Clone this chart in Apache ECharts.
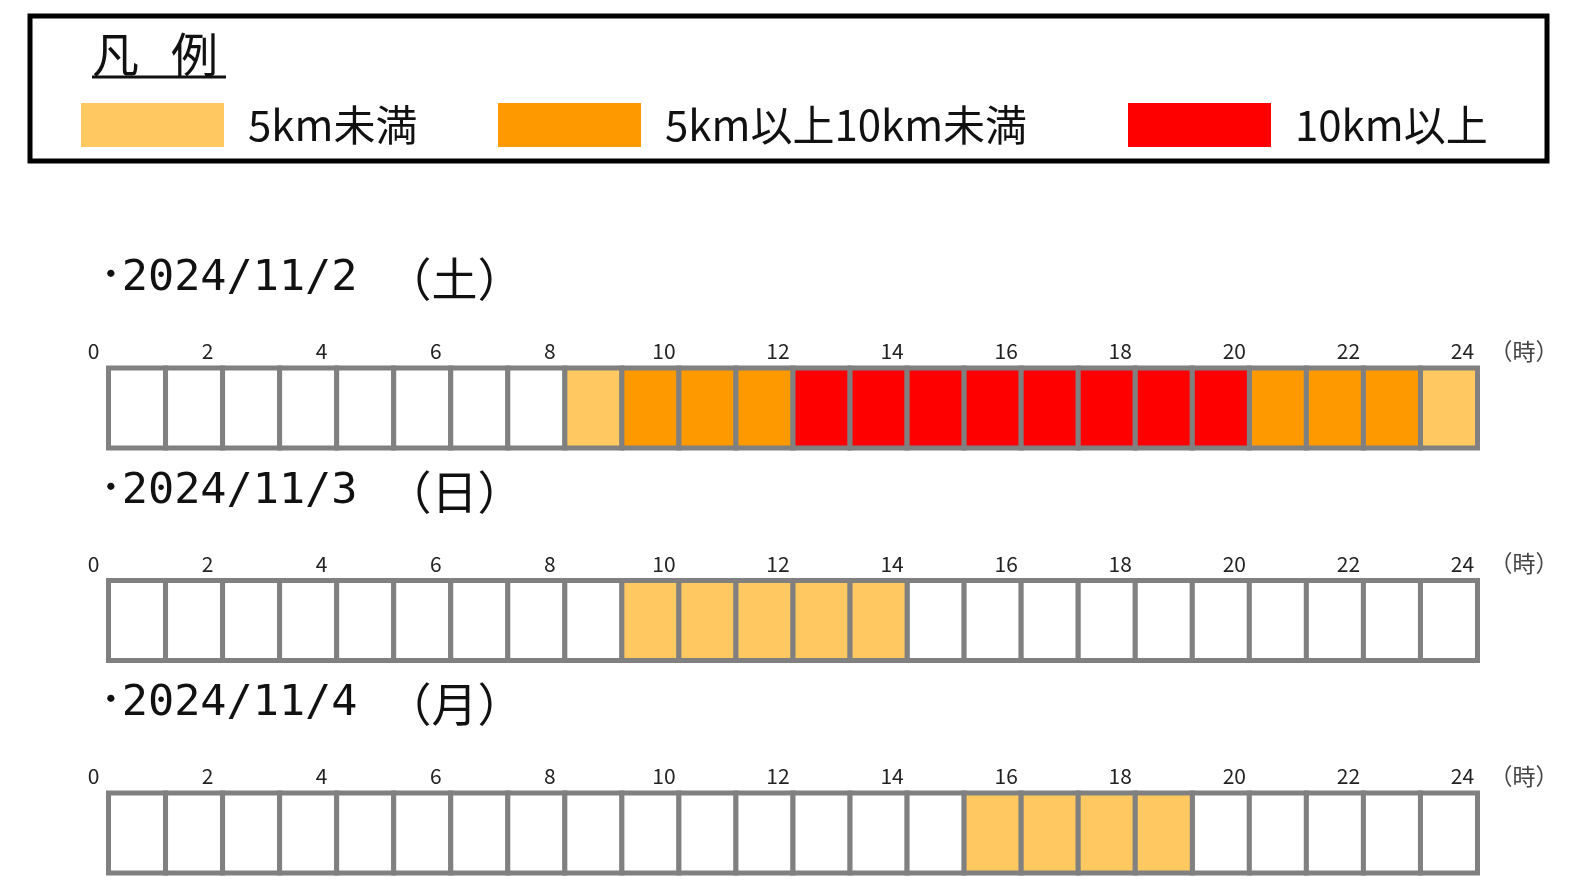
<!DOCTYPE html>
<html>
<head>
<meta charset="utf-8">
<script src="https://cdn.jsdelivr.net/npm/echarts@6/dist/echarts.min.js"></script>
<style>
html,body{margin:0;padding:0;background:#fff;}
#chart{width:1594px;height:888px;}
</style>
</head>
<body>
<div id="chart"></div>
<script>
// ---- data ----
const levelNames = ['5km未満', '5km以上10km未満', '10km以上'];
const dayDates = ['･2024/11/2', '･2024/11/3', '･2024/11/4'];
const dayWeekdays = ['（土）', '（日）', '（月）'];
// congestion level per hour (0 = none, 1 = <5km, 2 = 5-10km, 3 = >=10km), hours 0..23
const day1Levels = [0,0,0,0,0,0,0,0,1,2,2,2,3,3,3,3,3,3,3,3,2,2,2,1];
const day2Levels = [0,0,0,0,0,0,0,0,0,1,1,1,1,1,0,0,0,0,0,0,0,0,0,0];
const day3Levels = [0,0,0,0,0,0,0,0,0,0,0,0,0,0,0,1,1,1,1,0,0,0,0,0];
const hourAxisMin = 0;
const hourAxisMax = 24;
const hourAxisInterval = 2;
const hourUnit = '（時）';
const legendTitleChars = ['凡', '例'];

// ---- styles / layout ----
const FONT = '"Noto Sans CJK JP", "Noto Sans", sans-serif';
const MONO = '"DejaVu Sans Mono", "Noto Sans CJK JP", sans-serif';
const levelColors = ['#FFFFFF', '#FFC861', '#FF9900', '#FF0000'];
const cellBorder = '#808080';
const days = [day1Levels, day2Levels, day3Levels];
const gridLeft = 108.5, gridRight = 1594 - 1477.5, gridHeight = 80;
const gridTops = [368, 580.5, 793];
const titleTops = [256, 468.5, 681];
const legendLefts = [81, 498, 1128];

const chart = echarts.init(document.getElementById('chart'), null, {renderer: 'canvas'});

function renderCell(params, api) {
  const p0 = api.coord([api.value(0), 1]);
  const p1 = api.coord([api.value(1), 0]);
  return {
    type: 'rect',
    shape: {x: p0[0], y: p0[1], width: p1[0] - p0[0], height: p1[1] - p0[1]},
    style: {fill: api.visual('color'), stroke: cellBorder, lineWidth: 5}
  };
}

const grids = [], xAxes = [], yAxes = [], series = [], titles = [];
days.forEach((levels, d) => {
  grids.push({left: gridLeft, right: gridRight, top: gridTops[d], height: gridHeight});
  xAxes.push({
    type: 'value', gridIndex: d, position: 'top',
    min: hourAxisMin, max: hourAxisMax, interval: hourAxisInterval,
    axisLine: {show: false, onZero: false}, axisTick: {show: false}, splitLine: {show: false},
    axisLabel: {fontSize: 21, color: '#222', margin: 6, padding: [0, 30, 0, 0], fontFamily: FONT},
    name: hourUnit + '\n', nameLocation: 'end', nameGap: 12,
    nameTextStyle: {fontSize: 23, color: '#444', fontFamily: FONT, verticalAlign: 'middle', lineHeight: 34}
  });
  yAxes.push({type: 'value', gridIndex: d, min: 0, max: 1, show: false});
  titles.push({
    text: '{b|' + dayDates[d] + '}{g| }{p|' + dayWeekdays[d] + '}',
    left: 100, top: titleTops[d], padding: 0,
    textStyle: {
      fontSize: 43.5, fontWeight: 'normal', color: '#111', fontFamily: MONO,
      rich: {
        b: {fontSize: 43.5, color: '#111', fontFamily: MONO},
        g: {width: 28, fontSize: 20},
        p: {fontSize: 46, color: '#111', fontFamily: FONT}
      }
    }
  });
  for (let lv = 0; lv <= 3; lv++) {
    const data = [];
    levels.forEach((v, h) => { if (v === lv) data.push([h, h + 1]); });
    series.push({
      type: 'custom',
      name: lv === 0 ? 'なし' : levelNames[lv - 1],
      xAxisIndex: d, yAxisIndex: d,
      itemStyle: {color: levelColors[lv]},
      renderItem: renderCell,
      encode: {x: [0, 1]},
      data: data
    });
  }
});

titles.push({
  text: '{a|' + legendTitleChars[0] + '}{g| }{a|' + legendTitleChars[1] + '}',
  left: 92, top: 31, padding: 0,
  textStyle: {
    fontSize: 47, fontWeight: 'normal', color: '#111', fontFamily: FONT,
    rich: {a: {fontSize: 47, color: '#111', fontFamily: FONT}, g: {width: 32, fontSize: 20}}
  }
});

const legends = levelNames.map((name, i) => ({
  data: [name], left: legendLefts[i], top: 103, padding: 0,
  icon: 'rect', itemWidth: 143, itemHeight: 44,
  textStyle: {fontSize: 42, color: '#111', fontFamily: FONT, padding: [0, 0, 0, 19]}
}));

const option = {
  backgroundColor: '#fff',
  animation: false,
  title: titles,
  legend: legends,
  grid: grids,
  xAxis: xAxes,
  yAxis: yAxes,
  series: series,
  color: levelColors.slice(1),
  graphic: [
    {type: 'rect', shape: {x: 30, y: 16, width: 1517, height: 145}, style: {fill: 'none', stroke: '#000', lineWidth: 5}, silent: true},
    {type: 'line', shape: {x1: 92, y1: 77, x2: 226, y2: 77}, style: {stroke: '#111', lineWidth: 3}, silent: true}
  ]
};
chart.setOption(option);
</script>
</body>
</html>
